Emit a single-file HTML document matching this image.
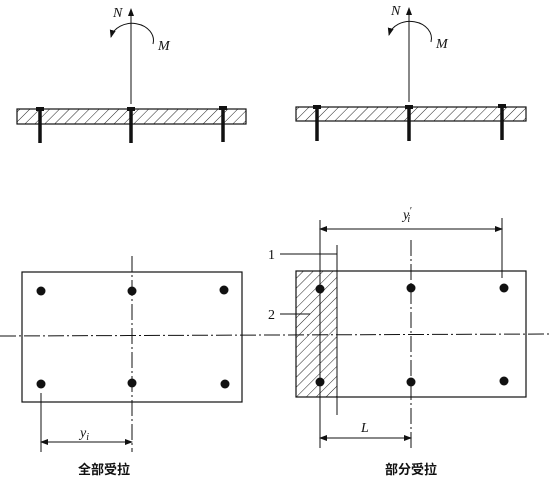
<!DOCTYPE html>
<html><head><meta charset="utf-8"><style>
html,body{margin:0;padding:0;background:#fff}
svg{display:block}
text{font-family:"Liberation Serif","Noto Serif CJK SC",serif;fill:#111}
.cj{font-family:"Liberation Sans","Noto Sans CJK SC",sans-serif;font-weight:bold;font-size:13px}
</style></head><body>
<svg width="550" height="482" viewBox="0 0 550 482">
<defs>
<pattern id="h" width="7" height="7" patternUnits="userSpaceOnUse" patternTransform="rotate(45)">
<line x1="0" y1="0" x2="0" y2="7" stroke="#222" stroke-width="1"/></pattern>
<marker id="ar" markerWidth="8" markerHeight="8" refX="7" refY="3" orient="auto"><path d="M0,0 L8,3 L0,6z" fill="#111"/></marker>
</defs>
<g stroke="#111" fill="none">
<g>
<rect x="17" y="109" width="229" height="15" fill="url(#h)" stroke-width="1.2"/>
<line x1="131" y1="104" x2="131" y2="9" marker-end="url(#ar)"/>
<path d="M153,44 A20,16 0 0 0 111,37" marker-end="url(#ar)"/>
<g stroke-width="3.5"><line x1="40" y1="107" x2="40" y2="143"/><line x1="131" y1="107" x2="131" y2="143"/><line x1="223" y1="107" x2="223" y2="142"/></g>
<g fill="#111" stroke="none"><rect x="36" y="107" width="8" height="4"/><rect x="127" y="107" width="8" height="4"/><rect x="219" y="106" width="8" height="4"/></g>
</g>
<g>
<rect x="296" y="107" width="230" height="14" fill="url(#h)" stroke-width="1.2"/>
<line x1="409" y1="102" x2="409" y2="8" marker-end="url(#ar)"/>
<path d="M431,42 A20,16 0 0 0 389,35" marker-end="url(#ar)"/>
<g stroke-width="3.5"><line x1="317" y1="105" x2="317" y2="141"/><line x1="409" y1="105" x2="409" y2="141"/><line x1="502" y1="104" x2="502" y2="140"/></g>
<g fill="#111" stroke="none"><rect x="313" y="105" width="8" height="4"/><rect x="405" y="105" width="8" height="4"/><rect x="498" y="104" width="8" height="4"/></g>
</g>
<line x1="0" y1="336" x2="550" y2="334" stroke-dasharray="16,3,2,3"/>
<rect x="22" y="272" width="220" height="130" stroke-width="1.2"/>
<line x1="132" y1="256" x2="132" y2="452" stroke-dasharray="16,3,2,3"/>
<line x1="41" y1="393" x2="41" y2="452"/>
<line x1="41" y1="442" x2="132" y2="442" marker-end="url(#ar)"/>
<line x1="132" y1="442" x2="41" y2="442" marker-end="url(#ar)"/>
<rect x="296" y="271" width="41" height="126" fill="url(#h)" stroke="none"/>
<rect x="296" y="271" width="230" height="126" stroke-width="1.2"/>
<line x1="337" y1="245" x2="337" y2="415"/>
<line x1="411" y1="240" x2="411" y2="448" stroke-dasharray="16,3,2,3"/>
<line x1="320" y1="220" x2="320" y2="448"/>
<line x1="502" y1="218" x2="502" y2="278"/>
<line x1="320" y1="229" x2="502" y2="229" marker-end="url(#ar)"/>
<line x1="502" y1="229" x2="320" y2="229" marker-end="url(#ar)"/>
<line x1="320" y1="438" x2="411" y2="438" marker-end="url(#ar)"/>
<line x1="411" y1="438" x2="320" y2="438" marker-end="url(#ar)"/>
<line x1="280" y1="254" x2="337" y2="254"/>
<line x1="280" y1="314" x2="310" y2="314"/>
</g>
<g fill="#111">
<circle cx="41" cy="291" r="4.5"/><circle cx="132" cy="291" r="4.5"/><circle cx="224" cy="290" r="4.5"/>
<circle cx="41" cy="384" r="4.5"/><circle cx="132" cy="383" r="4.5"/><circle cx="225" cy="384" r="4.5"/>
<circle cx="320" cy="289" r="4.5"/><circle cx="411" cy="288" r="4.5"/><circle cx="504" cy="288" r="4.5"/>
<circle cx="320" cy="382" r="4.5"/><circle cx="411" cy="382" r="4.5"/><circle cx="504" cy="381" r="4.5"/>
</g>
<g font-style="italic" font-size="14">
<text x="113" y="17">N</text>
<text x="158" y="50">M</text>
<text x="391" y="15">N</text>
<text x="436" y="48">M</text>
<text x="80" y="437">y<tspan font-size="10" dy="3">i</tspan></text>
<text x="403" y="219">y<tspan font-size="10" dy="-5">′</tspan><tspan font-size="10" dx="-4" dy="8">i</tspan></text>
<text x="361" y="432">L</text>
</g>
<text x="268" y="259" font-size="14">1</text>
<text x="268" y="319" font-size="14">2</text>
<text x="78" y="474" class="cj">全部受拉</text>
<text x="385" y="474" class="cj">部分受拉</text>
</svg>
</body></html>
